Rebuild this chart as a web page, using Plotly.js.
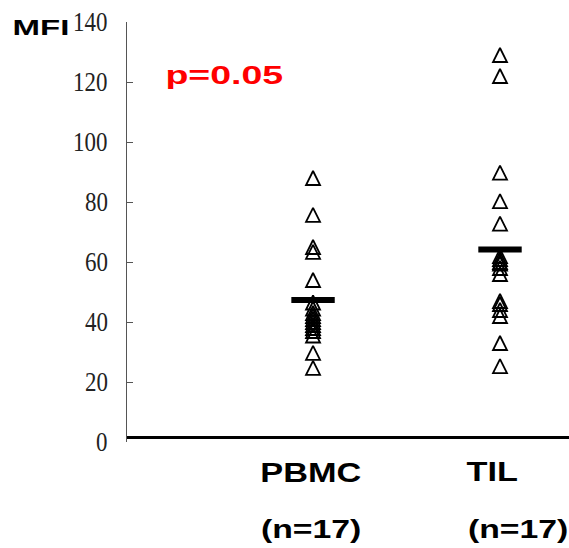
<!DOCTYPE html>
<html>
<head>
<meta charset="utf-8">
<script src="https://cdn.plot.ly/plotly-3.0.1.min.js"></script>
<style>
  html, body { margin: 0; padding: 0; background: #ffffff; }
  #chart { width: 569px; height: 548px; }
  /* wide bold lettering for the labels */
  .annotation-text { transform-box: fill-box; transform-origin: center; }
  g.annotation[data-index="0"] .annotation-text { transform: scaleX(1.5); }
  g.annotation[data-index="1"] .annotation-text { transform: scaleX(1.5); }
  g.annotation[data-index="2"] .annotation-text { transform: scaleX(1.27); }
  g.annotation[data-index="3"] .annotation-text { transform: scaleX(1.27); }
  g.annotation[data-index="4"] .annotation-text { transform: scaleX(1.35); }
  g.annotation[data-index="5"] .annotation-text { transform: scaleX(1.35); }
  /* narrow serif figures on the value axis */
  g.annotation[data-index="6"] .annotation-text,
  g.annotation[data-index="7"] .annotation-text,
  g.annotation[data-index="8"] .annotation-text,
  g.annotation[data-index="9"] .annotation-text,
  g.annotation[data-index="10"] .annotation-text,
  g.annotation[data-index="11"] .annotation-text,
  g.annotation[data-index="12"] .annotation-text,
  g.annotation[data-index="13"] .annotation-text {
    transform-origin: right center; transform: scaleX(0.85);
  }
</style>
</head>
<body>
<div id="chart"></div>
<script>
// MFI per sample, one array per cell population
const groups = ['PBMC', 'TIL'];
const groupCounts = ['(n=17)', '(n=17)'];
const pbmcMFI = [88, 75.7, 65, 63.4, 54, 46.5, 44.5, 43, 42, 41, 40, 39, 38, 37, 35.5, 29.7, 24.7];
const tilMFI = [129, 122, 89.8, 80.3, 72.8, 62, 61, 60, 59.5, 58, 56, 47, 46, 44, 42, 33, 25.3];
const meanMFI = [47.3, 64.2];
const pValueText = 'p=0.05';
const yTickValues = [0, 20, 40, 60, 80, 100, 120, 140];

// open triangle, turned upright and centred on its value
const triangleSize = 14;
const triangle = {
  symbol: 'arrow-down-open',
  angle: 180,
  standoff: triangleSize / 2,
  size: triangleSize,
  color: '#000000',
  line: { color: '#000000', width: 1.8 }
};

const traces = [
  {
    type: 'scatter', mode: 'markers',
    x: pbmcMFI.map(() => groups[0]), y: pbmcMFI,
    marker: triangle, hoverinfo: 'y'
  },
  {
    type: 'scatter', mode: 'markers',
    x: tilMFI.map(() => groups[1]), y: tilMFI,
    marker: triangle, hoverinfo: 'y'
  },
  {
    // group mean bars
    type: 'scatter', mode: 'markers',
    x: groups, y: meanMFI,
    marker: { symbol: 'line-ew', size: 31, line: { color: '#000000', width: 6 } },
    hoverinfo: 'y'
  }
];

const boldSans = (size, color) => ({ family: 'Liberation Sans', size: size, color: color || '#000000', weight: 'bold' });
const serifTick = { family: 'Times New Roman, Liberation Serif, serif', size: 27, color: '#222222' };

const textLabels = [
  { text: 'MFI', xref: 'paper', yref: 'paper', x: -0.195, y: 0.988,
    xanchor: 'center', yanchor: 'middle', showarrow: false, font: boldSans(22) },
  { text: pValueText, xref: 'paper', yref: 'paper', x: 0.2195, y: 0.874,
    xanchor: 'center', yanchor: 'middle', showarrow: false, font: boldSans(25, '#ff0000') },
  { text: groups[0], xref: 'paper', yref: 'paper', x: 0.416, y: -0.074,
    xanchor: 'center', yanchor: 'middle', showarrow: false, font: boldSans(27) },
  { text: groups[1], xref: 'paper', yref: 'paper', x: 0.826, y: -0.071,
    xanchor: 'center', yanchor: 'middle', showarrow: false, font: boldSans(27) },
  { text: groupCounts[0], xref: 'paper', yref: 'paper', x: 0.416, y: -0.207,
    xanchor: 'center', yanchor: 'middle', showarrow: false, font: boldSans(25) },
  { text: groupCounts[1], xref: 'paper', yref: 'paper', x: 0.884, y: -0.207,
    xanchor: 'center', yanchor: 'middle', showarrow: false, font: boldSans(25) }
];

// value-axis numbers, placed on the y scale at each tick
const tickLabels = yTickValues.map(v => ({
  text: String(v), xref: 'paper', yref: 'y', x: -0.04, y: v,
  xanchor: 'right', yanchor: 'middle', showarrow: false,
  borderpad: 0, font: serifTick
}));

const layout = {
  width: 569, height: 548,
  margin: { l: 127, r: 0, t: 22, b: 106, pad: 0 },
  paper_bgcolor: '#ffffff', plot_bgcolor: '#ffffff',
  showlegend: false,
  font: { family: 'Liberation Sans' },
  xaxis: {
    type: 'category',
    range: [-0.995, 1.369],
    showticklabels: false, ticks: '', showgrid: false, zeroline: false,
    showline: true, linecolor: '#000000', linewidth: 3,
    anchor: 'free', position: 0.012
  },
  yaxis: {
    range: [0, 140],
    tickvals: yTickValues,
    showticklabels: false,
    ticks: 'inside', ticklen: 6, tickwidth: 1, tickcolor: '#555555',
    showline: true, linecolor: '#555555', linewidth: 1,
    showgrid: false, zeroline: false
  },
  annotations: textLabels.concat(tickLabels)
};

Plotly.newPlot('chart', traces, layout, { displayModeBar: false, staticPlot: true });
</script>
</body>
</html>
